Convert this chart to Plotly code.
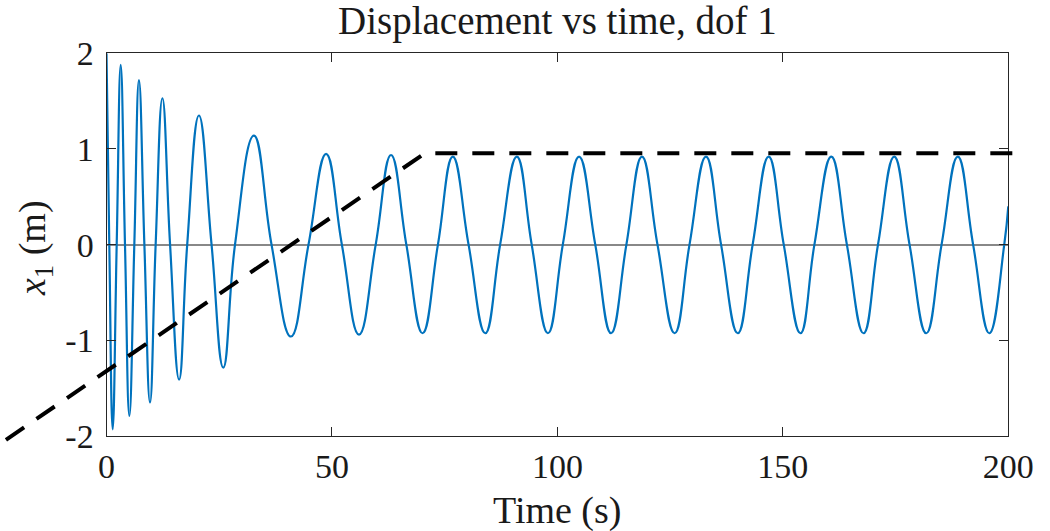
import plotly.graph_objects as go

# ---- data ----
# blue response: extrema and zero crossings (time s, displacement m)
t_key = [0.0, 0.62, 1.37, 2.26, 3.15, 4.1, 5.07, 6.17, 7.2, 8.4, 9.65, 10.9,
         12.4, 14.1, 16.1, 17.9, 20.5, 23.3, 25.9, 28.5, 32.7, 36.6, 40.9,
         44.8, 48.7, 52.2, 56.0, 59.7, 63.1, 66.5, 70.1, 73.5, 76.8, 80.3,
         84.0, 87.3, 91.0, 94.3, 97.9, 101.2, 104.8, 108.4, 111.9, 115.3,
         118.75, 122.2, 126.0, 129.3, 132.95, 136.3, 140.0, 143.3, 146.85,
         150.2, 153.9, 157.0, 160.75, 164.2, 167.9, 171.1, 174.7, 178.1,
         181.8, 185.2, 188.8, 192.2, 195.8, 199.1, 200.0]
x_key = [2.00, 0, -1.93, 0, 1.88, 0, -1.79, 0, 1.72, 0, -1.65, 0,
         1.53, 0, -1.41, 0, 1.35, 0, -1.285, 0, 1.14, 0, -0.96,
         0, 0.948, 0, -0.94, 0, 0.937, 0, -0.926, 0, 0.92, 0,
         -0.926, 0, 0.92, 0, -0.926, 0, 0.92, 0, -0.926, 0,
         0.92, 0, -0.926, 0, 0.92, 0, -0.926, 0, 0.92,
         0, -0.926, 0, 0.92, 0, -0.926, 0, 0.92, 0,
         -0.926, 0, 0.92, 0, -0.926, 0, 0.40]

# black dashed guide line (time s, displacement m)
guide_t = [-22.3, 70.6, 201.4]
guide_x = [-2.04, 0.955, 0.955]

x_ticks = [0, 50, 100, 150, 200]
x_ticklabels = ["0", "50", "100", "150", "200"]
y_ticks = [-2, -1, 0, 1, 2]
y_ticklabels = ["-2", "-1", "0", "1", "2"]

title_text = "Displacement vs time, dof 1"
xlabel_text = "Time (s)"
ylabel_text = "<i>x</i><sub>1</sub> (m)"

# ---- layout geometry ----
W, H = 1050, 531
xr = [0, 200]
yr = [-2, 2]
xdom = [106.5 / W, 1008.3 / W]
ydom = [(H - 436.0) / H, (H - 53.3) / H]

# full-figure overlay axes with the same scale as the main axes
ux = (xdom[1] - xdom[0]) / (xr[1] - xr[0])
uy = (ydom[1] - ydom[0]) / (yr[1] - yr[0])
xr2 = [xr[0] - xdom[0] / ux, xr[1] + (1 - xdom[1]) / ux]
yr2 = [yr[0] - ydom[0] / uy, yr[1] + (1 - ydom[1]) / uy]

SERIF = "Liberation Serif, Times New Roman, serif"
TXT = "#1a1a1a"
AX = "#262626"

fig = go.Figure()
fig.add_trace(go.Scatter(
    x=t_key, y=x_key, mode="lines",
    line=dict(color="#0072BD", width=2.2, shape="spline", smoothing=1.3),
    xaxis="x", yaxis="y", showlegend=False, hoverinfo="skip"))
fig.add_trace(go.Scatter(
    x=guide_t, y=guide_x, mode="lines",
    line=dict(color="black", width=4, dash="22px,15px"),
    xaxis="x2", yaxis="y2", showlegend=False, hoverinfo="skip"))

fig.update_layout(
    width=W, height=H,
    margin=dict(l=0, r=0, t=0, b=0),
    template="none",
    paper_bgcolor="white", plot_bgcolor="rgba(0,0,0,0)",
    xaxis=dict(domain=xdom, range=xr, anchor="y",
               tickvals=x_ticks, ticktext=x_ticklabels,
               ticks="inside", ticklen=9, tickwidth=1, tickcolor=AX,
               showline=True, linecolor=AX, linewidth=1, mirror="ticks",
               showgrid=False, zeroline=False, automargin=False,
               ticklabelstandoff=0,
               tickfont=dict(family=SERIF, size=34, color=TXT)),
    yaxis=dict(domain=ydom, range=yr, anchor="x",
               tickvals=y_ticks, ticktext=y_ticklabels,
               ticks="inside", ticklen=9, tickwidth=1, tickcolor=AX,
               showline=True, linecolor=AX, linewidth=1, mirror="ticks",
               showgrid=False, zeroline=True, zerolinecolor="#888888",
               zerolinewidth=2, automargin=False,
               ticklabelstandoff=5,
               tickfont=dict(family=SERIF, size=34, color=TXT)),
    xaxis2=dict(domain=[0, 1], range=xr2, anchor="y2", visible=False,
                showgrid=False, zeroline=False, fixedrange=True),
    yaxis2=dict(domain=[0, 1], range=yr2, anchor="x2", visible=False,
                showgrid=False, zeroline=False, fixedrange=True),
    annotations=[
        dict(text=title_text, xref="paper", yref="paper",
             x=(xdom[0] + xdom[1]) / 2, y=(H - 21) / H,
             xanchor="center", yanchor="middle", showarrow=False,
             font=dict(family=SERIF, size=39, color=TXT)),
        dict(text=xlabel_text, xref="paper", yref="paper",
             x=(xdom[0] + xdom[1]) / 2, y=(H - 510) / H,
             xanchor="center", yanchor="middle", showarrow=False,
             font=dict(family=SERIF, size=38, color=TXT)),
        dict(text=ylabel_text, xref="paper", yref="paper",
             x=35 / W, y=(H - 248) / H, textangle=-90,
             xanchor="center", yanchor="middle", showarrow=False,
             font=dict(family=SERIF, size=38, color=TXT)),
    ],
)

fig.write_html("out.html")
